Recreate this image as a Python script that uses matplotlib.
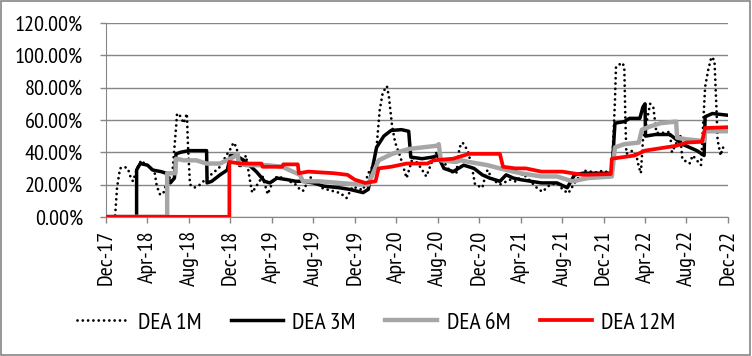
import matplotlib
matplotlib.use("Agg")
from matplotlib import pyplot as plt
from matplotlib.ticker import FuncFormatter
from matplotlib.patches import Rectangle

plt.rcParams['font.family'] = ['PT Sans Narrow', 'DejaVu Sans']

# x = months since Dec-2017, y = percent
tick_labels = ["Dec-17", "Apr-18", "Aug-18", "Dec-18", "Apr-19", "Aug-19", "Dec-19",
               "Apr-20", "Aug-20", "Dec-20", "Apr-21", "Aug-21", "Dec-21", "Apr-22",
               "Aug-22", "Dec-22"]
tick_months = [0, 4, 8, 12, 16, 20, 24, 28, 32, 36, 40, 44, 48, 52, 56, 60]

m1_x = [0, 0.87, 1.06, 1.35, 1.74, 2.1, 2.4, 2.6, 3.0, 3.4, 3.7, 4.2, 4.7, 4.9, 5.2, 5.5,
        5.9, 6.4, 6.75, 6.85, 7.1, 7.5, 7.8, 7.9, 8.1, 8.5, 9.1, 9.7, 10.3, 11.0, 11.6,
        12.0, 12.3, 12.6, 12.9, 13.5, 13.9, 14.1, 14.6, 15.1, 15.6, 16.1, 16.5, 17.1,
        17.7, 18.3, 18.7, 19.0, 19.7, 20.9, 22.6, 23.2, 23.8, 24.8, 25.3, 25.7, 26.1,
        26.4, 26.7, 27.1, 27.3, 27.6, 27.9, 28.4, 29.0, 29.6, 30.3, 30.9, 31.5, 31.9,
        32.5, 33.2, 33.8, 34.1, 34.4, 34.9, 35.3, 35.6, 36.3, 36.5, 36.8, 37.3, 38.0,
        39.0, 39.6, 40.2, 41.6, 42.1, 42.8, 43.5, 44.1, 44.6, 45.4, 46.2, 46.7, 47.3,
        47.9, 48.8, 49.1, 49.2, 49.8, 50.0, 50.1, 50.2, 50.8, 51.2, 51.4, 51.6, 51.8,
        52.5, 52.8, 53.1, 53.7, 54.4, 54.6, 55.4, 55.6, 56.3, 56.6, 57.0, 57.4, 57.8,
        58.1, 58.4, 58.7, 58.9, 59.0, 59.3, 59.5, 59.9]
m1_y = [0, 0, 18, 30, 31, 30, 24, 22, 30, 35, 33, 31, 27, 19, 14, 14,
        22, 27, 55, 64, 63, 58, 64, 45, 20, 18, 20, 24, 27, 31, 38,
        42, 46, 43, 30, 38, 22, 15, 20, 25, 14, 22, 25, 24,
        22, 20, 17, 16, 24.6, 17.7, 14.7, 11.6, 18.7, 16.6, 27, 31, 43,
        66, 77, 81, 74, 56, 46, 37, 24, 37, 31, 25, 35, 40,
        35, 28, 27, 43, 46, 41, 31, 20, 18, 23, 29, 23, 20,
        23, 21.7, 27, 17.7, 15.5, 19.7, 21, 16.6, 14.6, 23, 28.5, 28, 27.5,
        28.5, 27, 72, 93, 95.5, 93, 62, 39, 41, 37, 31, 27, 47.6,
        70, 68, 52, 52, 52.6, 40, 50.7, 35.7, 33, 38, 35, 32, 80.6,
        91, 99, 97, 66, 47.6, 38, 43, 41]

m3_x = [0, 2.95, 2.95, 3.3, 4.0, 4.5, 5.3, 5.8, 6.2, 6.6, 6.75, 7.2, 8.0, 9.7, 9.75,
        10.2, 11.0, 11.7, 12.0, 12.5, 13.3, 14.5, 15.3, 15.8, 16.5, 17.5, 18.3, 19.0,
        20.0, 21.0, 22.5, 23.5, 24.8, 25.3, 26.1, 26.8, 27.5, 28.5, 29.2, 29.4, 30.5,
        31.5, 32.0, 32.6, 33.5, 34.5, 35.5, 36.3, 37.0, 38.0, 38.6, 39.3, 40.0, 41.0,
        42.0, 43.5, 44.5, 45.2, 46.0, 48.8, 49.1, 50.0, 50.5, 51.5, 51.8, 52.0, 52.05,
        53.0, 54.4, 55.0, 55.6, 56.3, 57.0, 57.7, 57.8, 58.5, 59.9]
m3_y = [0, 0, 29, 33, 32, 29, 28, 27, 21, 24, 39, 40, 41, 41, 21,
        22, 26, 29, 38, 38, 35, 28, 22, 21, 24, 23, 22, 22,
        21, 19, 18, 17, 15, 17, 43, 50, 53.5, 54, 53, 37, 36,
        37, 38, 30, 28, 32, 30, 26, 24, 22, 26, 24, 23, 22,
        21, 21, 18, 26, 27, 27, 58, 59, 61, 61, 68, 70, 50,
        51, 51, 48, 45, 43, 41, 38, 62, 64, 63]

m6_x = [0, 5.9, 5.9, 6.7, 6.75, 7.5, 8.7, 9.7, 11.0, 12.3, 12.7, 12.8, 13.5, 15.5, 17.0,
        18.7, 19.0, 20.5, 22.5, 24.5, 25.3, 26.3, 27.6, 29.2, 30.5, 31.9, 32.1, 32.3,
        33.7, 34.3, 35.0, 36.8, 38.0, 39.3, 40.0, 42.0, 43.5, 45.0, 46.5, 48.8, 49.1,
        50.0, 51.4, 51.7, 52.5, 53.5, 55.0, 55.1, 56.0, 57.7, 57.8, 59.9]
m6_y = [0, 0, 27, 27, 36, 35, 35, 33, 33, 37, 39, 33, 32, 32, 31,
        26, 22, 22, 21, 20, 20, 35, 39, 42, 43, 44, 45, 35,
        34, 35, 34, 32, 30, 28, 27, 25, 25, 22, 24, 25, 43,
        45, 46, 54, 56, 58, 59, 49, 48, 47, 53, 53]

m12_x = [0, 11.9, 11.9, 13.0, 15.0, 15.1, 17.0, 17.1, 18.5, 18.6, 19.5, 22.0, 23.3, 24.0,
         25.0, 26.0, 26.3, 27.5, 29.0, 31.0, 31.6, 33.5, 34.5, 35.0, 38.0, 38.3, 39.5,
         40.5, 42.0, 44.0, 46.0, 48.7, 48.8, 51.0, 52.0, 53.0, 55.0, 56.0, 57.5, 57.8,
         59.9]
m12_y = [0, 0, 34, 33, 33, 31, 31, 32.5, 32.5, 27, 28, 27, 26, 23,
         21, 22, 30, 31, 33, 33, 35, 36, 38, 39, 39, 31, 30,
         30, 28, 28, 26, 26.5, 36, 38, 41, 42, 44, 46, 46.5, 55,
         55.5]

fig = plt.figure(figsize=(7.52, 3.56), dpi=100)
ax1 = fig.add_axes([0.141, 0.391, 0.827, 0.544])

ax1.plot(m1_x, m1_y, color='black', linestyle=(0, (0.01, 1.9)), linewidth=2.0,
         dash_capstyle='round', label="DEA 1M", zorder=3)
ax1.plot(m3_x, m3_y, color='black', linewidth=2.5, label="DEA 3M", zorder=4)
ax1.plot(m6_x, m6_y, color='#a6a6a6', linewidth=3.2, label="DEA 6M", zorder=5)
ax1.plot(m12_x, m12_y, color='#ff0000', linewidth=2.7, label="DEA 12M", zorder=6)

ax1.set_xlim(0, 60)
ax1.set_ylim(0, 120)
ax1.set_yticks(range(0, 121, 20))
ax1.yaxis.set_major_formatter(FuncFormatter(lambda v, p: "%.2f%%" % v))
ax1.set_xticks(tick_months)
ax1.set_xticklabels(tick_labels, rotation=90)
ax1.tick_params(axis='both', labelsize=16, color='#868686', length=4.5, width=1)
ax1.tick_params(axis='y', pad=12)
ax1.tick_params(axis='x', pad=5)
ax1.grid(axis='y', color='#868686', linewidth=1)
ax1.set_axisbelow(True)
for s in ['top', 'right']:
    ax1.spines[s].set_visible(False)
for s in ['left', 'bottom']:
    ax1.spines[s].set_color('#868686')

ax1.legend(loc='center', bbox_to_anchor=(0.5, 0.093), bbox_transform=fig.transFigure,
           ncol=4, frameon=False, fontsize=17, handlelength=2.2, columnspacing=1.25,
           handletextpad=0.4)

fig.patches.append(Rectangle((0.001, 0.002), 0.997, 0.995, transform=fig.transFigure,
                             fill=False, edgecolor='#868686', linewidth=1.2))

plt.savefig('out.png')
